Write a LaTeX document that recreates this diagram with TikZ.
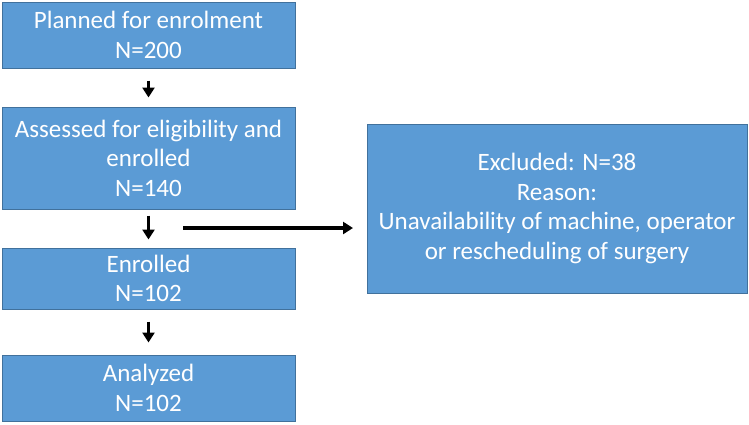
\documentclass[tikz,border=0pt]{standalone}
\usepackage{fontspec}
\setmainfont{Carlito}
\usetikzlibrary{arrows.meta}
\definecolor{boxfill}{HTML}{5B9BD5}
\definecolor{boxline}{HTML}{41719C}
\begin{document}
\begin{tikzpicture}[x=1pt,y=-1pt,
  flowbox/.style={draw=boxline, line width=1pt, fill=boxfill, text=white,
    align=center, inner sep=0pt, font=\fontsize{25}{29.5}\selectfont},
  arr/.style={line width=3.2pt, -{Triangle[width=12pt,length=10pt]}}]
\useasboundingbox (0,0) rectangle (749,424);
\node[flowbox, minimum width=293, minimum height=66] (b1) at (148.5,35) {Planned for enrolment\\N=200};
\node[flowbox, minimum width=293, minimum height=102] (b2) at (148.5,158) {Assessed for eligibility and\\enrolled\\N=140};
\node[flowbox, minimum width=293, minimum height=61] (b3) at (148.5,278.5) {Enrolled\\N=102};
\node[flowbox, minimum width=293, minimum height=66] (b4) at (148.5,388) {Analyzed\\N=102};
\node[flowbox, minimum width=380, minimum height=169] (ex) at (557,208.5) {Excluded: N=38\\Reason:\\Unavailability of machine, operator\\or rescheduling of surgery};
\coordinate (hs) at (183,228);
\coordinate (he) at (353,228);
\draw[arr, shorten <=12pt, shorten >=9pt] (b1) -- (b2);
\draw[arr, shorten <=6pt, shorten >=8pt] (b2) -- (b3);
\draw[arr, shorten <=12pt, shorten >=12pt] (b3) -- (b4);
\draw[arr] (hs) -- (he);
\end{tikzpicture}
\end{document}
